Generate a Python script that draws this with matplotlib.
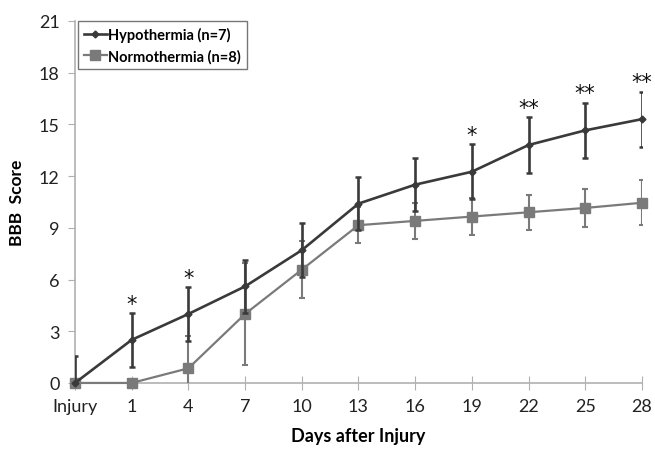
import matplotlib
matplotlib.use("Agg")
import matplotlib.pyplot as plt
from matplotlib.lines import Line2D
import numpy as np

plt.rcParams['font.family'] = ['Lato', 'DejaVu Sans']

days = ["Injury", "1", "4", "7", "10", "13", "16", "19", "22", "25", "28"]
hypo_mean = [0, 2.5, 4.0, 5.6, 7.7, 10.4, 11.5, 12.25, 13.8, 14.65, 15.3]
hypo_err = [1.55, 1.55, 1.55, 1.55, 1.55, 1.55, 1.55, 1.6, 1.6, 1.6, 1.6]
norm_mean = [0, 0, 0.85, 4.0, 6.57, 9.15, 9.4, 9.65, 9.9, 10.15, 10.45]
norm_err = [0, 0, 1.85, 2.95, 1.65, 1.05, 1.05, 1.05, 1.0, 1.1, 1.3]
stars = ["", "*", "*", "", "", "", "", "*", "**", "**", "**"]

fig = plt.figure(figsize=(6.55, 4.56), dpi=100)
ax = fig.add_axes([0.1145, 0.158, 0.8655, 0.794])
x = np.arange(len(days))

hcol = "#3a3a3a"
ncol = "#7a7a7a"

eb2 = ax.errorbar(x, norm_mean, yerr=norm_err, color=ncol, ecolor=ncol, lw=1.6,
                  elinewidth=1.5, capsize=2.5, capthick=1.5, marker="s", ms=6.5,
                  mfc=ncol, mec=ncol, zorder=3)
eb1 = ax.errorbar(x, hypo_mean, yerr=hypo_err, color=hcol, ecolor=hcol, lw=1.9,
                  elinewidth=1.9, capsize=2.5, capthick=1.8, marker="D", ms=3.5,
                  mfc=hcol, mec=hcol, zorder=4)
for eb in (eb1, eb2):
    eb[0].set_clip_on(False)

for xi, s, m, e in zip(x, stars, hypo_mean, hypo_err):
    if s:
        ax.text(xi, m + e + 0.55, s, ha="center", va="center", fontsize=15,
                color="#111111", family="DejaVu Sans")

ax.set_xlim(0, 10)
ax.set_ylim(0, 21)
ax.set_yticks(np.arange(0, 22, 3))
ax.set_xticks(x)
ax.set_xticklabels(days)

for sp in ("top", "right"):
    ax.spines[sp].set_visible(False)
for sp in ("left", "bottom"):
    ax.spines[sp].set_color("#b0b0b0")
    ax.spines[sp].set_linewidth(1.2)
ax.tick_params(axis="y", direction="out", length=5, color="#b0b0b0", labelsize=13, pad=6,
               labelcolor="#222222")
ax.tick_params(axis="x", direction="inout", length=10, color="#b0b0b0", labelsize=13, pad=6,
               labelcolor="#222222")

ax.set_xlabel("Days after Injury", fontsize=13, fontweight="bold", labelpad=9)
ax.set_ylabel("BBB  Score", fontsize=12.5, fontweight="bold", labelpad=10)

h1 = Line2D([], [], color=hcol, lw=1.9, marker="D", ms=3.5, mfc=hcol, mec=hcol)
h2 = Line2D([], [], color=ncol, lw=1.6, marker="s", ms=6.5, mfc=ncol, mec=ncol)
leg = ax.legend([h1, h2], ["Hypothermia (n=7)", "Normothermia (n=8)"], loc="upper left",
                bbox_to_anchor=(0.005, 1.0), frameon=True, fancybox=False,
                prop={"weight": "bold", "size": 10.5}, handlelength=1.6,
                handletextpad=0.1, borderpad=0.4, labelspacing=0.5, borderaxespad=0.0)
leg.get_frame().set_edgecolor("#555555")
leg.get_frame().set_linewidth(1.0)

fig.savefig("out.png", dpi=100)
